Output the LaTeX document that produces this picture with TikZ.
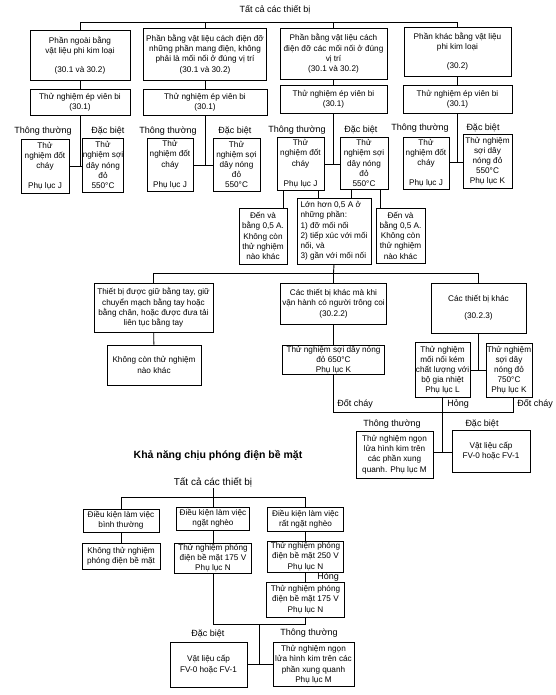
\documentclass[tikz,border=0pt]{standalone}
\usepackage{fontspec}
\setmainfont{Liberation Sans}
\newcommand\boxfont{\fontsize{8.2}{10.2}\selectfont}
\newcommand\lblfont{\fontsize{9}{11}\selectfont}
\begin{document}
\begin{tikzpicture}[x=1pt,y=-1pt,line width=.9pt,line cap=butt,line join=miter,font=\boxfont]
			\tikzset{bx/.style={draw,align=center,inner sep=.5pt},
				lbl/.style={font=\lblfont,inner sep=1pt}
			}
			\useasboundingbox (0,0) rectangle (556,695);
			% fire hazard tree
			\node[lbl] (all) at (275,10) {Tất cả các thiết bị};
			\coordinate (top) at (275,22);
			\node[bx,minimum width=100,minimum height=50] (a1) at (80,55) {Phần ngoài bằng\\vật liệu phi kim loại\\[9pt](30.1 và 30.2)};
			\node[bx,minimum width=123,minimum height=52] (a2) at (205,54) {Phần bằng vật liệu cách điện đỡ\\những phần mang điện, không\\phải là mối nối ở đúng vị trí\\(30.1 và 30.2)};
			\node[bx,minimum width=107,minimum height=51] (a3) at (333.5,53.5) {Phần bằng vật liệu cách\\điện đỡ các mối nối ở đúng\\vị trí\\(30.1 và 30.2)};
			\node[bx,minimum width=107,minimum height=49] (a4) at (457.5,51.5) {Phần khác bằng vật liệu\\phi kim loại\\[9pt](30.2)};
			\draw (a1.north) -- (a1.north |- top) -- (a4.north |- top) -- (a4.north);
			\draw (a2.north) -- (a2.north |- top) (a3.north) -- (a3.north |- top);
			\node[bx,minimum width=100,minimum height=26] (b1) at (80,102) {Thử nghiệm ép viên bi\\(30.1)};
			\node[bx,minimum width=124,minimum height=26] (b2) at (205,102) {Thử nghiệm ép viên bi\\(30.1)};
			\node[bx,minimum width=107,minimum height=28] (b3) at (333.5,99) {Thử nghiệm ép viên bi\\(30.1)};
			\node[bx,minimum width=109,minimum height=28] (b4) at (457.5,99) {Thử nghiệm ép viên bi\\(30.1)};
			\foreach \i in {1,...,4} \draw (a\i) -- (b\i);
			% normal / special tests
			\node[lbl] (n1) at (43,131) {Thông thường};
			\node[lbl] (s1) at (108,131) {Đặc biệt};
			\node[lbl] (n2) at (168,131) {Thông thường};
			\node[lbl] (s2) at (235,131) {Đặc biệt};
			\node[lbl] (n3) at (297,130) {Thông thường};
			\node[lbl] (s3) at (361,130) {Đặc biệt};
			\node[lbl] (n4) at (420,128) {Thông thường};
			\node[lbl] (s4) at (483,128) {Đặc biệt};
			\node[bx,minimum width=48,minimum height=54] (j1) at (45,166) {Thử\\nghiệm đốt\\cháy\\[10pt]Phụ lục J};
			\node[bx,minimum width=40,minimum height=54] (k1) at (103,165) {Thử\\nghiệm sợi\\dây nóng\\đỏ\\550°C};
			\node[bx,minimum width=46,minimum height=53] (j2) at (170,164.5) {Thử\\nghiệm đốt\\cháy\\[10pt]Phụ lục J};
			\node[bx,minimum width=47,minimum height=53] (k2) at (236.5,164.5) {Thử\\nghiệm sợi\\dây nóng\\đỏ\\550°C};
			\node[bx,minimum width=47,minimum height=53] (j3) at (300.5,163.5) {Thử\\nghiệm đốt\\cháy\\[10pt]Phụ lục J};
			\node[bx,minimum width=48,minimum height=52] (k3) at (364,163) {Thử\\nghiệm sợi\\dây nóng\\đỏ\\550°C};
			\node[bx,minimum width=46,minimum height=52] (j4) at (426,163) {Thử\\nghiệm đốt\\cháy\\[10pt]Phụ lục J};
			\node[bx,minimum width=49,minimum height=54] (k4) at (487.5,161) {Thử nghiệm\\sợi dây\\nóng đỏ\\550°C\\Phụ lục K};
			\coordinate (m1) at (80,166);
			\coordinate (m2) at (205,165);
			\coordinate (m3) at (333.5,164);
			\coordinate (m4) at (457.5,162);
			\foreach \i in {1,...,4} {
				\draw (b\i) -- (m\i);
				\draw (j\i.east |- m\i) -- (k\i.west |- m\i);
			}
			% current above / below 0.5 A
			\node[bx,minimum width=48,minimum height=56] (d1) at (263,236) {Đến và\\bằng 0,5 A.\\Không còn\\thử nghiệm\\nào khác};
			\node[bx,align=left,minimum width=74,minimum height=66] (d2) at (334,231) {Lớn hơn 0,5 A ở\\những phần:\\1) đỡ mối nối\\2) tiếp xúc với mối\\nối, và\\3) gần với mối nối};
			\node[bx,minimum width=49,minimum height=55] (d3) at (400.5,235.5) {Đến và\\bằng 0,5 A.\\Không còn\\thử nghiệm\\nào khác};
			\coordinate (p1) at (283,190);
			\coordinate (p2) at (318,190);
			\coordinate (p3) at (351,189);
			\coordinate (p4) at (380,189);
			\draw (p1) -- (p1 |- d1.north) (p2) -- (p2 |- d2.north);
			\draw (p3) -- (p3 |- d2.north) (p4) -- (p4 |- d3.north);
			% kinds of equipment
			\coordinate (mid) at (333.5,273);
			\node[bx,minimum width=119,minimum height=49] (e1) at (153.5,307.5) {Thiết bị được giữ bằng tay, giữ\\chuyển mạch bằng tay hoặc\\bằng chân, hoặc được đưa tải\\liên tục bằng tay};
			\node[bx,minimum width=106,minimum height=41] (e2) at (333.5,303.5) {Các thiết bị khác mà khi\\vận hành có người trông coi\\(30.2.2)};
			\node[bx,minimum width=95,minimum height=50] (e3) at (478.5,308) {Các thiết bị khác\\[7pt](30.2.3)};
			\draw (d2.south) -- (mid);
			\draw (e1.north) -- (e1.north |- mid) -- (e3.north |- mid) -- (e3.north);
			\draw (e2.north) -- (mid);
			\node[bx,minimum width=94,minimum height=40] (f1) at (154,365) {Không còn thử nghiệm\\nào khác};
			\node[bx,minimum width=102,minimum height=28] (f2) at (333.5,360) {Thử nghiệm sợi dây nóng\\đỏ 650°C\\Phụ lục K};
			\node[bx,minimum width=55,minimum height=55] (g1) at (442.5,370) {Thử nghiệm\\mối nối kém\\chất lượng với\\bộ gia nhiệt\\Phụ lục L};
			\node[bx,minimum width=46,minimum height=54] (g2) at (509,370) {Thử nghiệm\\sợi dây\\nóng đỏ\\750°C\\Phụ lục K};
			\coordinate (gj) at (478.5,370);
			\draw (e1) -- (f1);
			\draw (e2) -- (f2);
			\draw (e3) -- (gj);
			\draw (g1) -- (g2);
			% results
			\coordinate (fl) at (333.5,412);
			\coordinate (fr) at (513,412);
			\coordinate (hj) at (442.5,452);
			\draw (f2) -- (fl) -- (fr) -- (fr |- g2.south);
			\draw (g1) -- (hj);
			\node[lbl,anchor=west] (burn1) at (336,404) {Đốt cháy};
			\node[lbl,anchor=west] (fail1) at (446,404) {Hỏng};
			\node[lbl,anchor=west] (burn2) at (516,404) {Đốt cháy};
			\node[lbl] (n5) at (392,424) {Thông thường};
			\node[lbl] (s5) at (482,424) {Đặc biệt};
			\node[bx,minimum width=77,minimum height=47] (h1) at (394.5,454.5) {Thử nghiệm ngọn\\lửa hình kim trên\\các phần xung\\quanh. Phụ lục M};
			\node[bx,minimum width=78,minimum height=42] (h2) at (491,451) {Vật liệu cấp\\FV-0 hoặc FV-1};
			\draw (h1.east |- hj) -- (h2.west |- hj);
			% tracking
			\node[font=\fontsize{10.5}{12}\selectfont\bfseries] (title) at (218,456) {Khả năng chịu phóng điện bề mặt};
			\node[font=\fontsize{10}{12}\selectfont,inner sep=1pt] (all2) at (213,482) {Tất cả các thiết bị};
			\coordinate (top2) at (213,497);
			\node[bx,minimum width=76,minimum height=23] (t1) at (121,520.5) {Điều kiện làm việc\\bình thường};
			\node[bx,minimum width=73,minimum height=23] (t2) at (213,518.5) {Điều kiện làm việc\\ngặt nghèo};
			\node[bx,minimum width=76,minimum height=24] (t3) at (305.5,519) {Điều kiện làm việc\\rất ngặt nghèo};
			\draw (all2) -- (top2);
			\draw (t1.north) -- (t1.north |- top2) -- (t3.north |- top2) -- (t3.north);
			\draw (t2.north) -- (top2);
			\node[bx,minimum width=78,minimum height=26] (u1) at (121,556) {Không thử nghiệm\\phóng điện bề mặt};
			\node[bx,minimum width=77,minimum height=30] (u2) at (213,558) {Thử nghiệm phóng\\điện bề mặt 175 V\\Phụ lục N};
			\node[bx,minimum width=76,minimum height=31] (u3) at (305.5,556.5) {Thử nghiệm phóng\\điện bề mặt 250 V\\Phụ lục N};
			\node[bx,minimum width=78,minimum height=35] (u4) at (305.5,599.5) {Thử nghiệm phóng\\điện bề mặt 175 V\\Phụ lục N};
			\foreach \i in {1,2,3} \draw (t\i) -- (u\i);
			\draw (u3) -- (u4);
			\node[lbl,anchor=west] (fail2) at (316,577) {Hỏng};
			\coordinate (bj) at (259,624);
			\coordinate (cj) at (259,664.5);
			\draw (u2) -- (u2 |- bj) -- (u4 |- bj) -- (u4);
			\draw (bj) -- (cj);
			\node[lbl] (s6) at (208,634) {Đặc biệt};
			\node[lbl] (n6) at (309,633) {Thông thường};
			\node[bx,minimum width=77,minimum height=45] (v1) at (208.5,664.5) {Vật liệu cấp\\FV-0 hoặc FV-1};
			\node[bx,minimum width=81,minimum height=44] (v2) at (313.5,664.5) {Thử nghiệm ngọn\\lửa hình kim trên các\\phần xung quanh\\Phụ lục M};
			\draw (v1) -- (v2);
		\end{tikzpicture}
\end{document}
